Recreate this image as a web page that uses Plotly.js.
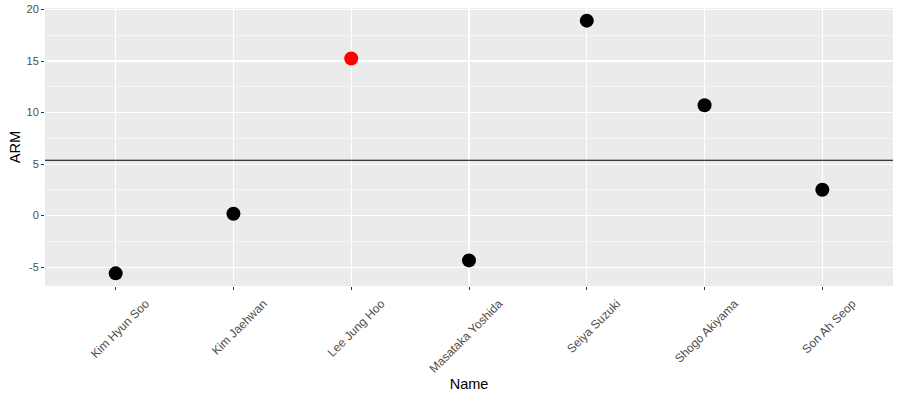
<!DOCTYPE html>
<html>
<head>
<meta charset="utf-8">
<script src="https://cdn.plot.ly/plotly-3.0.1.min.js"></script>
<style>
  html, body { margin: 0; padding: 0; background: #fff; }
  #chart { width: 900px; height: 400px; }
</style>
</head>
<body>
<div id="chart"></div>
<script>
/* ARM por jogador — pontos com média (linha horizontal), estilo ggplot */
var names = ['Kim Hyun Soo', 'Kim Jaehwan', 'Lee Jung Hoo', 'Masataka Yoshida',
             'Seiya Suzuki', 'Shogo Akiyama', 'Son Ah Seop'];
var arm = [-5.6, 0.19, 15.25, -4.34, 18.92, 10.71, 2.51];
var highlight = 'Lee Jung Hoo';
var yTicks = [-5, 0, 5, 10, 15, 20];

(function () {
  var el = document.getElementById('chart');
  var GG = {
    panel: '#EBEBEB',
    grid: '#FFFFFF',
    tick: '#333333',
    tickText: '#4D4D4D',
    title: '#000000'
  };
  var FONT = 'Liberation Sans, Arial, sans-serif';

  // média de ARM (geom_hline)
  var mean = arm.reduce(function (a, b) { return a + b; }, 0) / arm.length;

  // expansão padrão do ggplot: 5% do intervalo dos dados
  var lo = Math.min.apply(null, arm), hi = Math.max.apply(null, arm);
  var pad = (hi - lo) * 0.05;

  var cores = names.map(function (n) { return n === highlight ? '#FF0000' : '#000000'; });

  Plotly.newPlot(el, [{
    type: 'scatter',
    mode: 'markers',
    x: names,
    y: arm,
    marker: { color: cores, size: 14, line: { width: 0 } },
    hovertemplate: '<b>%{x}</b><br>ARM: %{y:.2f}<extra></extra>'
  }], {
    width: 900,
    height: 400,
    paper_bgcolor: '#FFFFFF',
    plot_bgcolor: GG.panel,
    font: { family: FONT, color: GG.tickText, size: 11 },
    margin: { l: 45, r: 7, t: 8, b: 114 },
    showlegend: false,
    xaxis: {
      type: 'category',
      range: [-0.6, names.length - 0.4],
      showgrid: true,
      gridcolor: GG.grid,
      gridwidth: 1.1,
      zeroline: false,
      showline: false,
      ticks: 'outside',
      ticklen: 3,
      tickwidth: 1,
      tickcolor: GG.tick,
      tickangle: -45,
      ticklabelshift: 30,
      ticklabelstandoff: 2,
      tickfont: { family: FONT, color: GG.tickText, size: 12 },
      title: { text: 'Name', font: { family: FONT, color: GG.title, size: 14.5 }, standoff: 4 },
      fixedrange: true
    },
    yaxis: {
      range: [lo - pad, hi + pad],
      tickmode: 'array',
      tickvals: yTicks,
      ticktext: yTicks.map(String),
      showgrid: true,
      gridcolor: GG.grid,
      gridwidth: 1.1,
      minor: { dtick: 2.5, tick0: 0, showgrid: true, gridcolor: GG.grid, gridwidth: 0.5 },
      zeroline: false,
      showline: false,
      ticks: 'outside',
      ticklen: 3,
      tickwidth: 1,
      tickcolor: GG.tick,
      tickfont: { family: FONT, color: GG.tickText, size: 11 },
      title: { text: 'ARM', font: { family: FONT, color: GG.title, size: 14.5 }, standoff: 2 },
      fixedrange: true
    },
    shapes: [{
      type: 'line',
      xref: 'paper', x0: 0, x1: 1,
      yref: 'y', y0: mean, y1: mean,
      line: { color: '#000000', width: 1.1 },
      layer: 'above'
    }]
  }, { displayModeBar: false, staticPlot: true });
})();
</script>
</body>
</html>
